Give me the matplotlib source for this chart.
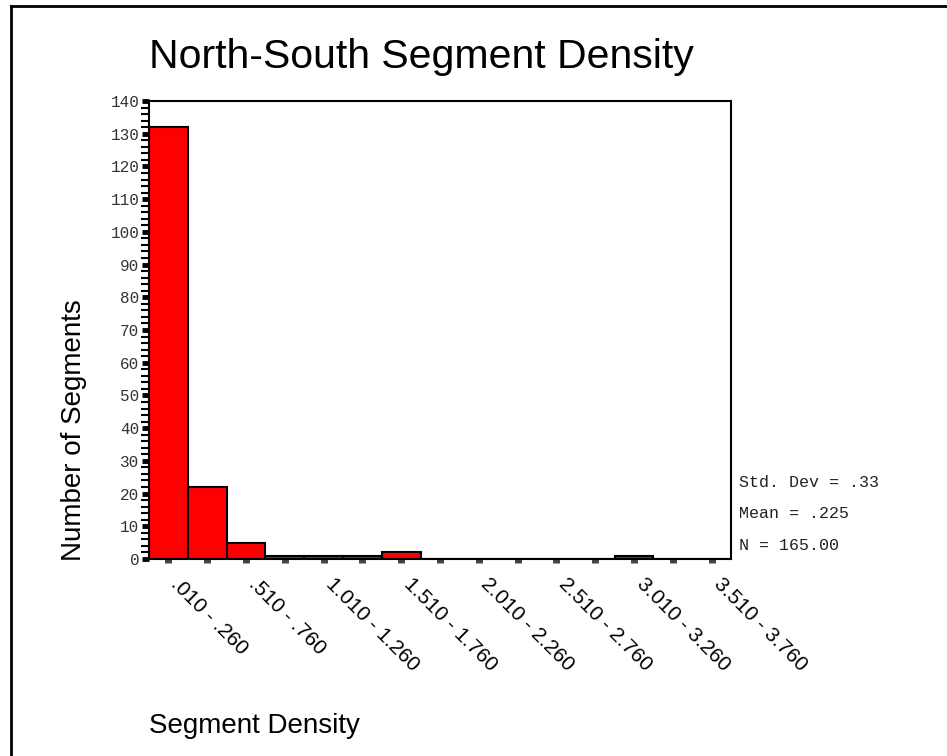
import numpy as np
import matplotlib
matplotlib.use("Agg")
import matplotlib.pyplot as plt
from matplotlib.lines import Line2D

# bins of width .25 starting at .010
bin_edges = np.round(np.arange(0.01, 3.76 + 0.001, 0.25), 3)
counts = [132, 22, 5, 1, 1, 1, 2, 0, 0, 0, 0, 0, 1, 0, 0]

def fmt(v):
    s = f"{v:.3f}"
    return s[1:] if s.startswith("0") else s

bin_labels = [f"{fmt(a)} - {fmt(b)}" for a, b in zip(bin_edges[:-1], bin_edges[1:])]
stats_lines = ["Std. Dev = .33", "Mean = .225", "N = 165.00"]

W, H = 947, 756
fig = plt.figure(figsize=(W / 100, H / 100), dpi=100)
ax = fig.add_axes([149 / W, 1 - 559 / H, (731 - 149) / W, (559 - 101) / H])

centers = np.arange(len(counts))
ax.bar(centers, counts, width=1.0, color="#ff0000", edgecolor="black", linewidth=1.5, align="center")

ax.set_xlim(-0.5, len(counts) - 0.5)
ax.set_ylim(0, 140)

# y ticks
ax.set_yticks(np.arange(0, 141, 10))
ax.set_yticks(np.arange(0, 141, 2), minor=True)
ax.set_yticklabels([str(v) for v in range(0, 141, 10)],
                   fontfamily="Liberation Mono", fontsize=11.5, color="#333333")
ax.tick_params(axis="y", which="major", length=5, width=3.5, color="black", pad=2)
ax.tick_params(axis="y", which="minor", length=6, width=1.5, color="black")

# x ticks: small squares under every bin, labels every other bin
ax.set_xticks(centers)
ax.set_xticklabels([])
ax.tick_params(axis="x", which="major", length=3, width=5, color="#444444", pad=2)
for i in range(0, len(counts), 2):
    ax.annotate(bin_labels[i], xy=(i, 0), xycoords=("data", "axes fraction"),
                xytext=(4, -16), textcoords="offset points",
                rotation=-45, rotation_mode="anchor", ha="left", va="center",
                fontfamily="Liberation Sans", fontsize=15, annotation_clip=False)

for sp in ax.spines.values():
    sp.set_linewidth(1.5)

# stats
for k, (line, yy) in enumerate(zip(stats_lines, [483, 514, 545])):
    fig.text(739 / W, 1 - yy / H, line, fontfamily="Liberation Mono", fontsize=12,
             va="center", ha="left", color="#222222")

fig.text(149 / W, 1 - 68 / H, "North-South Segment Density", fontfamily="Liberation Sans",
         fontsize=29.5, va="baseline", ha="left")
fig.text(74 / W, 1 - 430 / H, "Number of Segments", fontfamily="Liberation Sans",
         fontsize=20, rotation=90, va="center", ha="center")
fig.text(149 / W, 1 - 733 / H, "Segment Density", fontfamily="Liberation Sans",
         fontsize=20, va="baseline", ha="left")

# page border (top and left)
fig.add_artist(Line2D([11 / W, 1.0], [1 - 6 / H, 1 - 6 / H], transform=fig.transFigure, color="black", lw=2))
fig.add_artist(Line2D([11 / W, 11 / W], [0, 1 - 6 / H], transform=fig.transFigure, color="black", lw=2))

fig.savefig("out.png", dpi=100)
